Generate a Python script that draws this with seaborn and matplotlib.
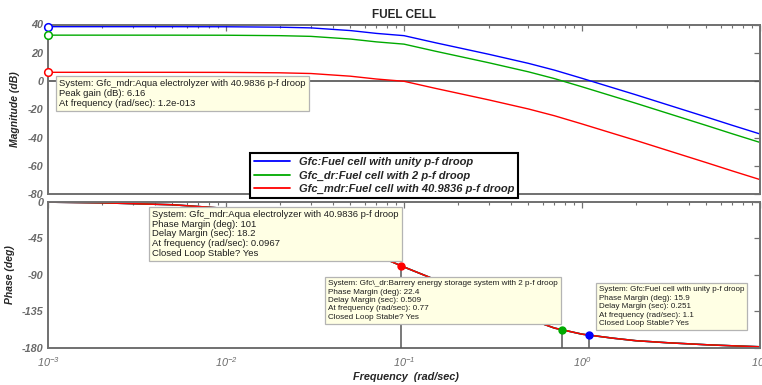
import matplotlib
matplotlib.use("Agg")
import matplotlib.pyplot as plt
import numpy as np
import pandas as pd
import seaborn as sns
from matplotlib.lines import Line2D
from matplotlib.ticker import FixedLocator, FixedFormatter, LogLocator, NullFormatter

# ---- frequency response samples (rad/sec, dB, deg) ----
freq = [0.001, 0.002, 0.005, 0.01, 0.02, 0.03, 0.05, 0.07, 0.1, 0.15, 0.2,
        0.3, 0.5, 0.7, 1.0, 1.5, 2.0, 3.0, 5.0, 7.0, 10.0]
mag_fc = [38.46, 38.46, 38.45, 38.4, 38.1, 37.6, 35.7, 33.7, 32.1, 27.1, 23.7,
          18.9, 12.5, 7.7, 1.9, -4.9, -9.7, -16.7, -25.5, -31.4, -37.5]
mag_dr = [32.46, 32.46, 32.45, 32.4, 32.1, 31.6, 29.7, 27.7, 26.1, 21.1, 17.7,
          12.9, 6.5, 1.7, -4.1, -10.9, -15.7, -22.7, -31.5, -37.4, -43.5]
mag_mdr = [6.16, 6.16, 6.15, 6.1, 5.8, 5.3, 3.4, 1.4, -0.2, -5.2, -8.6,
           -13.4, -19.8, -24.6, -30.4, -37.2, -42.0, -49.0, -57.8, -63.7, -69.8]
phase_deg = [-0.8, -1.6, -4.0, -8.5, -18.0, -30.0, -51.0, -66.0, -80.5, -96.0, -107.0,
             -124.0, -144.0, -155.5, -163.0, -168.0, -171.0, -173.5, -176.0, -177.3, -178.5]

series_names = ["Gfc:Fuel cell with unity p-f droop",
                "Gfc_dr:Fuel cell with 2 p-f droop",
                "Gfc_mdr:Fuel cell with 40.9836 p-f droop"]
series_colors = ["#0000ff", "#00aa00", "#ff0000"]

# data-tip values
peak_gain = 6.16
peak_freq_text = "1.2e-013"
tip_systems = ["Gfc:Fuel cell with unity p-f droop",
               "Gfc\\_dr:Barrery energy storage system with 2 p-f droop",
               "Gfc_mdr:Aqua electrolyzer with 40.9836 p-f droop"]
margin_pm = [15.9, 22.4, 101]
margin_dm = [0.251, 0.509, 18.2]
margin_w = [1.1, 0.77, 0.0967]

mag_ticks = [40, 20, 0, -20, -40, -60, -80]
phase_ticks = [0, -45, -90, -135, -180]
freq_ticks = [1e-3, 1e-2, 1e-1, 1e0, 1e1]
freq_ticklabels = [r"$10^{-3}$", r"$10^{-2}$", r"$10^{-1}$", r"$10^{0}$", r"$10^{1}$"]

# ---- style ----
sns.set_style("white")
plt.rcParams["font.family"] = ["Liberation Sans", "DejaVu Sans"]
plt.rcParams["axes.unicode_minus"] = False
plt.rcParams["mathtext.fontset"] = "custom"
plt.rcParams["mathtext.it"] = "Liberation Sans:italic"
plt.rcParams["mathtext.rm"] = "Liberation Sans:italic"
plt.rcParams["mathtext.default"] = "it"

W, H = 762, 385
fig = plt.figure(figsize=(W / 100, H / 100), dpi=100)


def fig_box(x0, y0, x1, y1):
    return [x0 / W, 1 - y1 / H, (x1 - x0) / W, (y1 - y0) / H]


ax_mag = fig.add_axes(fig_box(48, 24.5, 760, 194))
ax_ph = fig.add_axes(fig_box(48, 201.5, 760, 348))

rows = []
for name, mags in zip(series_names, [mag_fc, mag_dr, mag_mdr]):
    for f, m, p in zip(freq, mags, phase_deg):
        rows.append({"system": name, "freq": f, "mag": m, "phase": p})
df = pd.DataFrame(rows)
palette = dict(zip(series_names, series_colors))

sns.lineplot(data=df, x="freq", y="mag", hue="system", hue_order=series_names,
             palette=palette, ax=ax_mag, lw=1.0, legend=False, errorbar=None)
sns.lineplot(data=df, x="freq", y="phase", hue="system", hue_order=series_names,
             palette=palette, ax=ax_ph, lw=1.1, legend=False, errorbar=None)

spine_col = "#707070"
tick_col = "#6a6a6a"
for ax in (ax_mag, ax_ph):
    ax.set_xscale("log")
    ax.set_xlim(1e-3, 1e1)
    ax.xaxis.set_major_locator(FixedLocator(freq_ticks))
    ax.xaxis.set_minor_locator(LogLocator(base=10, subs=np.arange(2, 10)))
    ax.xaxis.set_minor_formatter(NullFormatter())
    ax.tick_params(which="both", direction="in", top=True, right=True,
                   color=spine_col, labelcolor=tick_col, labelsize=7.8)
    ax.tick_params(which="major", length=4, width=0.9)
    ax.tick_params(which="minor", length=2.5, width=0.8)
    for s in ax.spines.values():
        s.set_color(spine_col)
        s.set_linewidth(1.4)
    ax.set_xlabel("")
    ax.set_ylabel("")

# magnitude axes
ax_mag.set_ylim(-80, 40)
ax_mag.yaxis.set_major_locator(FixedLocator(mag_ticks))
ax_mag.yaxis.set_major_formatter(FixedFormatter([str(t) for t in mag_ticks]))
ax_mag.tick_params(labelbottom=False)
ax_mag.axhline(0, color="#505050", lw=1.2, zorder=1.5)
for mags, col in zip([mag_fc, mag_dr, [peak_gain]], series_colors):
    ax_mag.plot([freq[0]], [mags[0]], "o", ms=5.5, mfc="white", mec=col,
                mew=1.1, zorder=5, clip_on=False)
ax_mag.set_title("FUEL CELL", fontsize=8.5, fontweight="bold", pad=5)
ax_mag.set_ylabel("Magnitude (dB)", fontsize=7.5, fontweight="bold", style="italic")
ax_mag.yaxis.set_label_coords(-0.039, 0.5)

# phase axes
ax_ph.set_ylim(-180, 0)
ax_ph.yaxis.set_major_locator(FixedLocator(phase_ticks))
ax_ph.yaxis.set_major_formatter(FixedFormatter([str(t) for t in phase_ticks]))
ax_ph.xaxis.set_major_formatter(FixedFormatter(freq_ticklabels))
ax_ph.tick_params(axis="x", which="major", pad=5)
ax_ph.set_ylabel("Phase (deg)", fontsize=7.5, fontweight="bold", style="italic")
ax_ph.yaxis.set_label_coords(-0.046, 0.5)
ax_ph.set_xlabel("Frequency  (rad/sec)", fontsize=7.8, fontweight="bold", style="italic")
ax_ph.xaxis.set_label_coords(0.503, -0.165)

# stability margin markers with drop lines
for w, pm, col in zip(margin_w, margin_pm, series_colors):
    ph = pm - 180
    ax_ph.vlines(w, -180, ph, color="#555555", lw=1.1, zorder=3)
    ax_ph.plot([w], [ph], "o", ms=5, color=col, zorder=6)

for ax in (ax_mag, ax_ph):
    for lbl in ax.get_yticklabels():
        lbl.set_fontstyle("italic")
        lbl.set_fontweight("bold")

# data tips
tip_box = dict(boxstyle="square,pad=0.35", fc="#ffffe4", ec="#b4b4b4", lw=0.9)


def tip(x, y, text, size, spacing):
    fig.text(x / W, 1 - y / H, text, ha="left", va="top", fontsize=size,
             color="#1e1e1e", linespacing=spacing, bbox=tip_box, zorder=20)


tip(59, 79, f"System: {tip_systems[2]}\nPeak gain (dB): {peak_gain}\n"
            f"At frequency (rad/sec): {peak_freq_text}", 6.8, 1.15)
for i, (x, y, size, sp) in zip([2, 1, 0], [(152, 210, 6.8, 1.1),
                                            (328, 280, 5.9, 1.3),
                                            (599, 286, 5.8, 1.32)]):
    tip(x, y, f"System: {tip_systems[i]}\nPhase Margin (deg): {margin_pm[i]:g}\n"
              f"Delay Margin (sec): {margin_dm[i]:g}\n"
              f"At frequency (rad/sec): {margin_w[i]:g}\nClosed Loop Stable? Yes",
        size, sp)

# legend spanning both panels
handles = [Line2D([], [], color=c, lw=1.3) for c in series_colors]
leg = fig.legend(handles, series_names, loc="upper left",
                 bbox_to_anchor=(250 / W, 1 - 153 / H), bbox_transform=fig.transFigure,
                 frameon=True, fancybox=False, edgecolor="black", framealpha=1,
                 borderaxespad=0, borderpad=0.38, labelspacing=0.3,
                 handlelength=3.2, handletextpad=0.8,
                 prop={"weight": "bold", "style": "italic", "size": 8.0})
leg.get_frame().set_linewidth(1.5)
leg.set_zorder(30)

fig.savefig("out.png", dpi=100)
